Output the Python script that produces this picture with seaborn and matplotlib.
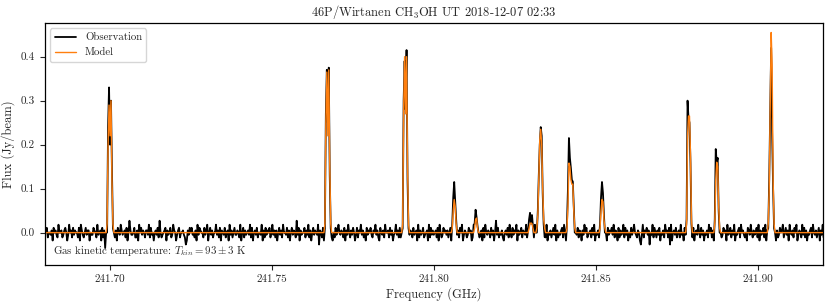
import numpy as np
import matplotlib
matplotlib.use("Agg")
import matplotlib.pyplot as plt
import seaborn as sns

# ── Spectrum data ────────────────────────────────────────────────────────────
F0 = 241.68        # first channel (GHz)
STEP = 0.0003      # channel width (GHz)

# baseline residuals, one digit per channel, looked up in NOISE_LEVELS (Jy/beam)
NOISE_LEVELS = [-0.035, -0.027, -0.018, -0.011, -0.005,
                0.0, 0.005, 0.011, 0.018, 0.027]
NOISE = "".join([
    "4673554627564385563467524856374655372864357466254476538456273605",
    "7395644536275486456372596445733628574653664837452564739534567264",
    "5734865246735564312647574536284765537468257463558463726547356284",
    "6357446538257364564837256473554826374657358463625746385547362574",
    "6539472645573648362574654816537256749463253746854653726485364752",
    "4736584635274657436584632754638556374624584637352645738465374562",
    "8364573456283746456372853475646357284635463758246534756238465753",
    "4627385465374625947354632564738537465826457365483627546385467352",
    "6473825463574826354673852463756483547365264857345637482546357468",
    "3527465748365273645837462537468543652148365746154837536472546385",
    "6371825647356384527468356437256485374625463857362548736534756284",
    "5736482546738564352764853645738264573826453674852634756835746285",
    "4637582465384736254673854635726483564735",
])

LINE_FREQ = [241.7000, 241.7672, 241.7912, 241.8064, 241.8131, 241.8300,
             241.8330, 241.8424, 241.8523, 241.8790, 241.8876, 241.9042]
MODEL_PROFILES = [
    [0.02, 0.20, 0.29, 0.22, 0.30, 0.12, 0.02],
    [0.02, 0.25, 0.365, 0.22, 0.37, 0.15, 0.02],
    [0.02, 0.28, 0.40, 0.27, 0.40, 0.15, 0.02],
    [0.01, 0.05, 0.075, 0.06, 0.02],
    [0.01, 0.03, 0.033, 0.01],
    [0.01, 0.02, 0.022, 0.02, 0.01],
    [0.01, 0.04, 0.12, 0.21, 0.235, 0.20, 0.10, 0.03, 0.01],
    [0.01, 0.06, 0.158, 0.15, 0.12, 0.11, 0.11, 0.05, 0.01],
    [0.01, 0.05, 0.075, 0.07, 0.03, 0.01],
    [0.02, 0.22, 0.265, 0.265, 0.18, 0.03],
    [0.02, 0.12, 0.16, 0.15, 0.06, 0.01],
    [0.02, 0.10, 0.27, 0.455, 0.38, 0.12, 0.02],
]
OBS_PROFILES = [
    [0.00, 0.24, 0.33, 0.20, 0.30, 0.14, 0.01],
    [0.01, 0.27, 0.37, 0.25, 0.375, 0.13, 0.01],
    [0.01, 0.30, 0.39, 0.28, 0.415, 0.12, 0.01],
    [0.02, 0.08, 0.115, 0.07, 0.03],
    [0.02, 0.052, 0.035, 0.015],
    [0.03, 0.045, 0.02, 0.04, 0.015],
    [0.00, 0.05, 0.13, 0.20, 0.24, 0.22, 0.09, 0.02, -0.01],
    [0.02, 0.10, 0.215, 0.17, 0.147, 0.12, 0.116, 0.06, 0.00],
    [0.02, 0.08, 0.115, 0.09, 0.04, 0.00],
    [0.03, 0.30, 0.26, 0.25, 0.16, 0.02],
    [0.03, 0.19, 0.16, 0.17, 0.05, 0.00],
    [0.01, 0.12, 0.27, 0.42, 0.23, 0.10, 0.01],
]

TITLE = "46P/Wirtanen CH$_3$OH UT 2018-12-07 02:33"
NOTE = r"Gas kinetic temperature: $T_{kin} = 93 \pm 3$ K"

# ── Build channel arrays ─────────────────────────────────────────────────────
n = len(NOISE)
freq = F0 + STEP * np.arange(n)
obs = np.array([NOISE_LEVELS[int(c)] for c in NOISE])
model = np.zeros(n)
for fc, mp, op in zip(LINE_FREQ, MODEL_PROFILES, OBS_PROFILES):
    i0 = int(round((fc - F0) / STEP)) - len(mp) // 2
    model[i0:i0 + len(mp)] = mp
    obs[i0:i0 + len(op)] = op

# ── Plot ─────────────────────────────────────────────────────────────────────
sns.set_style("ticks")
plt.rcParams["font.family"] = ["cmr10", "DejaVu Serif"]
plt.rcParams["mathtext.fontset"] = "cm"
plt.rcParams["axes.formatter.use_mathtext"] = True

fig, ax = plt.subplots(figsize=(8.31, 3.07), dpi=100)
fig.subplots_adjust(left=0.054, right=0.990, top=0.925, bottom=0.137)

sns.lineplot(x=freq, y=obs, color="black", lw=1.3, label="Observation",
             estimator=None, sort=False, ax=ax)
sns.lineplot(x=freq, y=model, color="#ff7f0e", lw=1.0, label="Model",
             estimator=None, sort=False, ax=ax)

ax.set_xlim(241.68, 241.92)
ax.set_ylim(-0.0735, 0.4765)
ax.set_xticks([241.70, 241.75, 241.80, 241.85, 241.90])
ax.set_xticklabels(["241.70", "241.75", "241.80", "241.85", "241.90"])
ax.set_yticks([0.0, 0.1, 0.2, 0.3, 0.4])
ax.set_yticklabels(["0.0", "0.1", "0.2", "0.3", "0.4"])
ax.tick_params(labelsize=8, direction="out", length=3.5, width=0.8)
for s in ax.spines.values():
    s.set_linewidth(0.9)
    s.set_color("black")

ax.set_title(TITLE, fontsize=9, pad=5)
ax.set_xlabel("Frequency (GHz)", fontsize=9, labelpad=2)
ax.set_ylabel("Flux (Jy/beam)", fontsize=9, labelpad=4)
ax.text(0.01, 0.03, NOTE, transform=ax.transAxes, fontsize=7.8,
        ha="left", va="bottom")
ax.legend(loc="upper left", fontsize=7.8, frameon=True, handlelength=2.0,
          borderaxespad=0.5)

fig.savefig("out.png", dpi=100)
